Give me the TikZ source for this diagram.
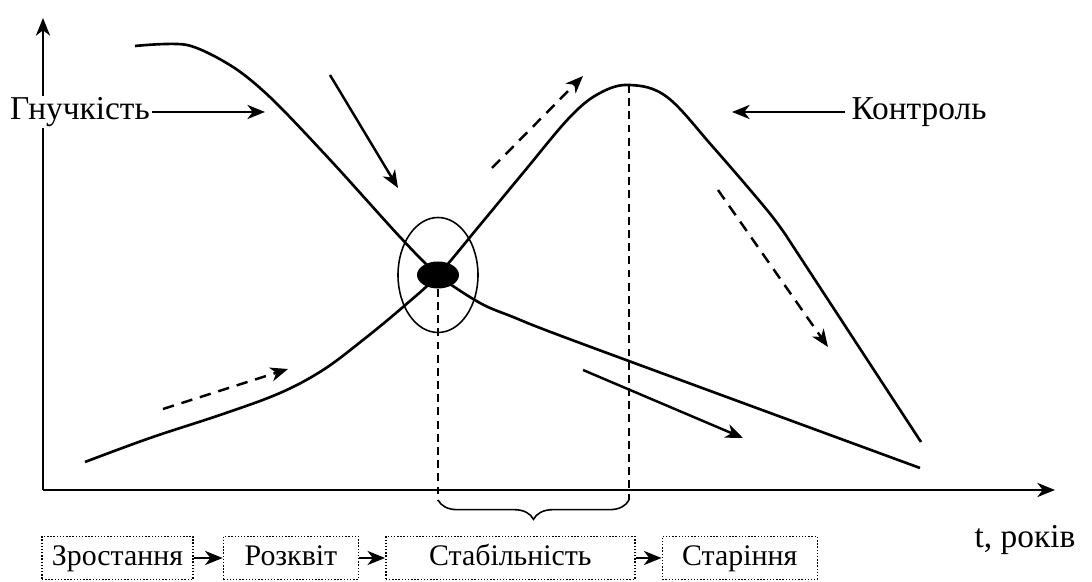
\documentclass[tikz,border=0pt]{standalone}
\usepackage{fontspec}
\setmainfont{Liberation Serif}
\usepackage{tikz}
\usetikzlibrary{shapes.geometric, arrows.meta, positioning, decorations.pathreplacing}

\begin{document}
\begin{tikzpicture}[
  font=\fontsize{19}{22}\selectfont,
  >={Stealth[length=10pt, width=8pt, inset=3pt]},
  axis/.style={->, line width=1.5pt},
  curve/.style={line width=1.5pt},
  arr/.style={->, line width=1.4pt},
  darr/.style={->, line width=1.4pt, dash pattern=on 6.5pt off 4.5pt},
  guide/.style={line width=0.9pt, dash pattern=on 4.5pt off 3pt},
  stage/.style={rectangle, draw, densely dotted, line width=0.8pt,
                font=\fontsize{17}{20}\selectfont,
                minimum height=0.86cm, text height=12pt, text depth=4pt,
                inner sep=2pt},
  lbl/.style={fill=white, inner sep=1pt}
]
\useasboundingbox (-0.86,-1.84) rectangle (20.98,9.8);
% axes
\coordinate (o) at (0,0);
\draw[axis] (o) -- (0,9.44) coordinate (ytop);
\draw[axis] (o) -- (20.24,0) coordinate (xend);
\node (tlab) at (19.64,-1.0) {t, років};

% flexibility and control curves
\draw[curve] plot[smooth, tension=0.5] coordinates {(1.84,8.88) (2.88,8.9)
  (3.8,8.46) (4.6,7.8) (5.8,6.54) (7.14,5.06) (7.9,4.3) (8.74,3.74)
  (9.4,3.46) (10.74,2.94) (17.54,0.44)};
\draw[curve] plot[smooth, tension=0.6] coordinates {(0.84,0.56) (2.14,1.04)
  (3.6,1.52) (4.74,1.94) (5.6,2.4) (6.4,3.0) (7.2,3.66) (7.9,4.3)
  (8.74,5.3) (9.6,6.34) (10.54,7.46) (11.14,7.94) (11.74,8.1) (12.48,7.86)
  (13.4,6.86) (14.48,5.6) (14.88,5.06)} -- (17.56,0.96);

% crossing point
\node[ellipse, draw, line width=0.9pt, minimum width=1.6cm,
      minimum height=2.3cm] (cross) at (7.9,4.3) {};
\node[ellipse, fill=black, minimum width=0.84cm, minimum height=0.54cm,
      inner sep=0pt] (dot) at (7.9,4.3) {};
\coordinate (peak) at (11.72,8.1);
\coordinate (b1) at (7.9,-0.2);
\coordinate (b2) at (11.72,-0.2);
\draw[guide] (dot.south) -- (b1);
\draw[guide] (peak) -- (b2);
\draw[decorate, decoration={brace, mirror, amplitude=11pt},
      line width=0.9pt] (b1) -- (b2);

% labels
\node[lbl] (flex) at (0.74,7.56) {Гнучкість};
\node (ctrl) at (17.52,7.56) {Контроль};
\coordinate (flexend) at (4.44,7.56);
\coordinate (ctrlend) at (13.78,7.56);
\draw[arr] (flex.east) -- (flexend);
\draw[arr] (ctrl.west) -- (ctrlend);

% trend arrows
\coordinate (s1) at (5.74,8.3);   \coordinate (e1) at (7.1,6.04);
\coordinate (s2) at (10.8,2.4);   \coordinate (e2) at (14.0,1.04);
\coordinate (s3) at (8.98,6.44);  \coordinate (e3) at (10.8,8.28);
\coordinate (s4) at (13.5,6.0);   \coordinate (e4) at (15.7,2.86);
\coordinate (s5) at (2.4,1.62);   \coordinate (e5) at (4.9,2.42);
\draw[arr] (s1) -- (e1);
\draw[arr] (s2) -- (e2);
\foreach \i in {3,4,5}{
  \draw[darr] (s\i) -- (e\i);
}

% life cycle stages
\node[stage, minimum width=3.02cm] (grow) at (1.49,-1.36) {Зростання};
\node[stage, minimum width=2.7cm, right=0.58cm of grow] (bloom) {Розквіт};
\node[stage, minimum width=4.98cm, right=0.52cm of bloom] (stab) {Стабільність};
\node[stage, minimum width=3.1cm, right=0.52cm of stab] (old) {Старіння};
\draw[arr] (grow) -- (bloom);
\draw[arr] (bloom) -- (stab);
\draw[arr] (stab) -- (old);
\end{tikzpicture}
\end{document}
